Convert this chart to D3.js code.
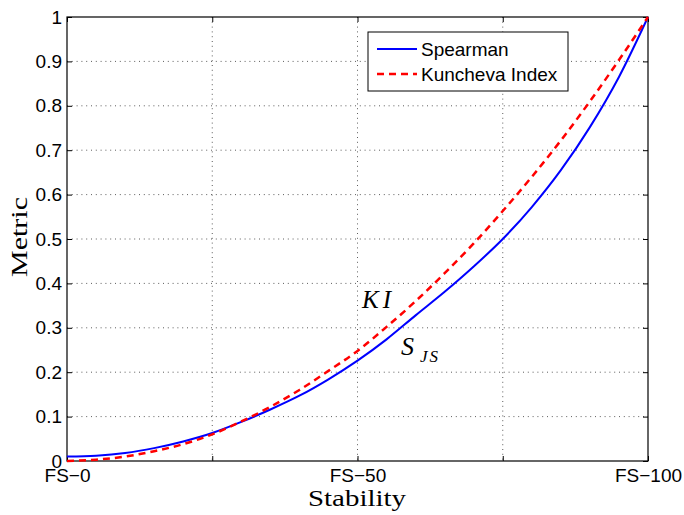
<!DOCTYPE html>
<meta charset="utf-8">
<head>
    <title></title>
    <script src="https://d3js.org/d3.v7.min.js"></script>
</head>
<style>
    body{ margin:0; background:#fff; }
    .tick text{ font-family: "Liberation Sans", Arial, sans-serif; font-size:19px; fill:#000; }
    .serif{ font-family: "Liberation Serif", "Times New Roman", serif; }
</style>
<svg width="684" height="515"></svg>
<script>
    // stability level (FS-0 .. FS-100) and the two metrics
    var stab = [0,5,10,15,20,25,30,35,40,45,50,55,60,65,70,75,80,85,90,95,100];
    var spearman = [0.010,0.012,0.018,0.029,0.044,0.063,0.088,0.116,0.147,0.184,0.226,
                    0.274,0.328,0.381,0.438,0.500,0.572,0.655,0.752,0.865,1.000];
    var kuncheva = [0.000,0.003,0.010,0.022,0.038,0.060,0.089,0.122,0.160,0.203,0.248,
                    0.302,0.360,0.423,0.490,0.563,0.640,0.722,0.810,0.903,1.000];
    var xTicks = [0,25,50,75,100],
        xLabels = {0:'FS\u22120', 50:'FS\u221250', 100:'FS\u2212100'};
    var yTicks = [0,0.1,0.2,0.3,0.4,0.5,0.6,0.7,0.8,0.9,1];
    var legendNames = ['Spearman','Kuncheva Index'];

    var plotL = 67, plotR = 648, plotT = 17, plotB = 461;
    var svg = d3.select('svg');

    var x = d3.scaleLinear().domain([0,100]).range([plotL,plotR]),
        y = d3.scaleLinear().domain([0,1]).range([plotB,plotT]);

    // dotted grid
    var grid = svg.append('g')
        .attr('stroke','#333').attr('stroke-width',0.8).attr('stroke-dasharray','1,3.8');
    grid.selectAll('.gx').data(xTicks.slice(1,-1)).enter().append('line')
        .attr('x1',function(d){ return x(d); }).attr('x2',function(d){ return x(d); })
        .attr('y1',plotT).attr('y2',plotB);
    grid.selectAll('.gy').data(yTicks.slice(1,-1)).enter().append('line')
        .attr('y1',function(d){ return y(d); }).attr('y2',function(d){ return y(d); })
        .attr('x1',plotL).attr('x2',plotR);

    // axes, ticks pointing inward
    var fmt = function(d){ return String(+d.toFixed(1)); };
    svg.append('g').attr('transform','translate('+plotL+',0)')
        .call(d3.axisLeft(y).tickValues(yTicks).tickSize(-5).tickPadding(5).tickFormat(fmt));
    svg.append('g').attr('transform','translate('+plotR+',0)')
        .call(d3.axisRight(y).tickValues(yTicks).tickSize(-5).tickFormat(''));
    svg.append('g').attr('transform','translate(0,'+plotB+')')
        .call(d3.axisBottom(x).tickValues(xTicks).tickSize(-5).tickPadding(8)
            .tickFormat(function(d){ return xLabels[d] || ''; }));
    svg.append('g').attr('transform','translate(0,'+plotT+')')
        .call(d3.axisTop(x).tickValues(xTicks).tickSize(-5).tickFormat(''));
    svg.selectAll('.domain').remove();
    svg.selectAll('.tick line').attr('stroke','#000');

    svg.append('rect').attr('x',plotL).attr('y',plotT)
        .attr('width',plotR-plotL).attr('height',plotB-plotT)
        .attr('fill','none').attr('stroke','#000').attr('stroke-width',1.2);

    // curves
    var line = d3.line().curve(d3.curveMonotoneX)
        .x(function(d){ return x(d[0]); }).y(function(d){ return y(d[1]); });
    svg.append('path').datum(d3.zip(stab,spearman)).attr('d',line)
        .attr('fill','none').attr('stroke','#0000ff').attr('stroke-width',2);
    svg.append('path').datum(d3.zip(stab,kuncheva)).attr('d',line)
        .attr('fill','none').attr('stroke','#ff0000').attr('stroke-width',2.5)
        .attr('stroke-dasharray','7,5');

    // curve labels
    svg.append('text').attr('class','serif').attr('x',362).attr('y',308)
        .style('font-style','italic').style('font-size','25px')
        .style('letter-spacing','4px').text('KI');
    var sjs = svg.append('text').attr('class','serif').attr('x',401).attr('y',355)
        .style('font-style','italic').style('font-size','26px');
    sjs.append('tspan').text('S');
    sjs.append('tspan').attr('x',420).attr('y',362).style('font-size','17px')
        .style('letter-spacing','2px').text('JS');

    // axis titles
    svg.append('text').attr('class','serif').attr('x',357).attr('y',506)
        .attr('text-anchor','middle').style('font-size','23px')
        .attr('textLength',98).attr('lengthAdjust','spacingAndGlyphs').text('Stability');
    svg.append('text').attr('class','serif')
        .attr('transform','translate(27,237) rotate(-90)')
        .attr('text-anchor','middle').style('font-size','23px')
        .attr('textLength',80).attr('lengthAdjust','spacingAndGlyphs').text('Metric');

    // legend
    var lg = svg.append('g');
    lg.append('rect').attr('x',368).attr('y',32).attr('width',200).attr('height',59)
        .attr('fill','#fff').attr('stroke','#000').attr('stroke-width',1);
    var items = lg.selectAll('g.item').data(legendNames).enter().append('g')
        .attr('transform',function(d,i){ return 'translate(0,'+(49+i*25)+')'; });
    items.append('line').attr('x1',377).attr('x2',417)
        .attr('stroke',function(d,i){ return i==0 ? '#0000ff' : '#ff0000'; })
        .attr('stroke-width',function(d,i){ return i==0 ? 2 : 2.5; })
        .attr('stroke-dasharray',function(d,i){ return i==0 ? null : '7,5'; });
    items.append('text').attr('x',421).attr('y',7)
        .style('font-family','"Liberation Sans", Arial, sans-serif').style('font-size','19px')
        .text(function(d){ return d; });
</script>
